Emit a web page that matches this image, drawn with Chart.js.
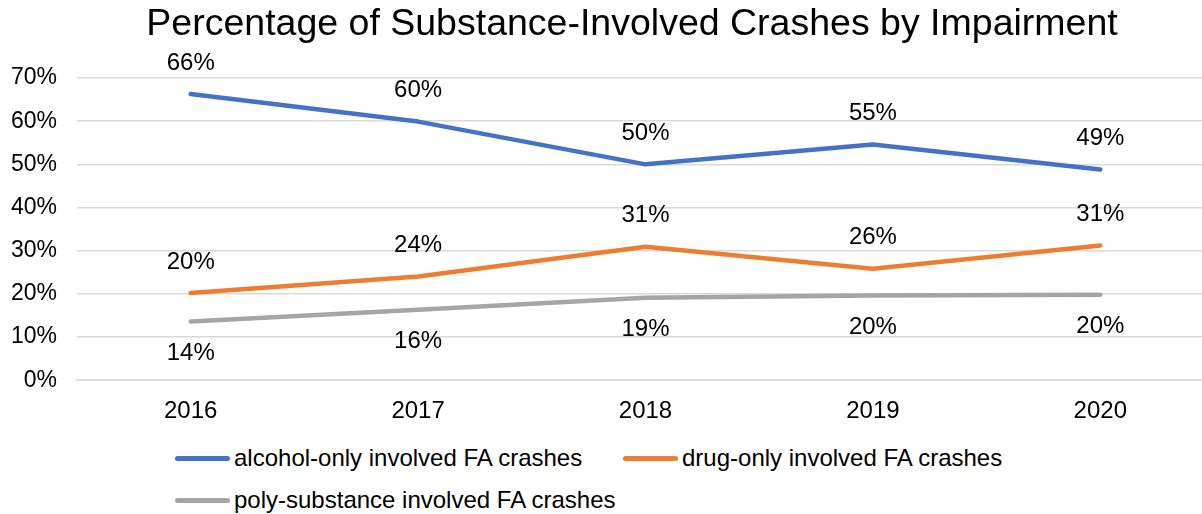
<!DOCTYPE html>
<html>
<head>
<meta charset="utf-8">
<script src="https://cdn.jsdelivr.net/npm/chart.js@4/dist/chart.umd.min.js"></script>
<style>
  html, body { margin: 0; padding: 0; background: #fff; overflow: hidden; }
  #wrap { position: relative; width: 1202px; height: 514px; overflow: hidden; background: #fff; }
  #c { position: absolute; left: 0; top: 0; }
  .lg { position: absolute; display: flex; align-items: center; font-family: "Liberation Sans", Arial, sans-serif; font-size: 24px; color: #000; white-space: nowrap; }
  .lg .sw { width: 55px; height: 5px; border-radius: 3px; margin-right: 4px; }
</style>
</head>
<body>
<div id="wrap">
  <canvas id="c" width="1214" height="443"></canvas>
</div>
<script>
const titleText = "Percentage of Substance-Involved Crashes by Impairment";
const years = ["2016", "2017", "2018", "2019", "2020"];
const seriesNames = ["alcohol-only involved FA crashes", "drug-only involved FA crashes", "poly-substance involved FA crashes"];
const alcoholOnly = [66.3, 59.9, 50.0, 54.6, 48.8];
const drugOnly = [20.2, 24.0, 30.9, 25.8, 31.2];
const polySubstance = [13.6, 16.3, 19.1, 19.6, 19.8];
const yTicks = [0, 10, 20, 30, 40, 50, 60, 70];
const colors = ["#4472C4", "#ED7D31", "#A5A5A5"];
const labelSide = ["above", "above", "below"];

const FONT = "'Liberation Sans', Arial, sans-serif";

// title drawn centred at x=632 (the original chart frame is wider than the crop)
const offsetTitle = {
  id: 'offsetTitle',
  afterDraw(chart) {
    const ctx = chart.ctx;
    ctx.save();
    ctx.font = "37.5px " + FONT;
    ctx.fillStyle = "#000";
    ctx.textAlign = "center";
    ctx.textBaseline = "middle";
    ctx.fillText(titleText, 632, 24.5);
    ctx.restore();
  }
};

const valueLabels = {
  id: 'valueLabels',
  afterDatasetsDraw(chart) {
    const ctx = chart.ctx;
    ctx.save();
    ctx.font = "24px " + FONT;
    ctx.fillStyle = "#000";
    ctx.textAlign = "center";
    ctx.textBaseline = "middle";
    chart.data.datasets.forEach((ds, i) => {
      const meta = chart.getDatasetMeta(i);
      meta.data.forEach((pt, j) => {
        const off = labelSide[i] === "above" ? -31 : 32;
        ctx.fillText(Math.round(ds.data[j]) + "%", pt.x, pt.y + off);
      });
    });
    ctx.restore();
  }
};

const datasets = [alcoholOnly, drugOnly, polySubstance].map((d, i) => ({
  label: seriesNames[i],
  data: d,
  borderColor: colors[i],
  backgroundColor: colors[i],
  borderWidth: 4.5,
  borderCapStyle: 'round',
  borderJoinStyle: 'round',
  pointRadius: 0,
  pointHoverRadius: 0,
  tension: 0,
  fill: false
}));

new Chart(document.getElementById('c'), {
  type: 'line',
  data: { labels: years, datasets },
  plugins: [valueLabels, offsetTitle],
  options: {
    responsive: false,
    animation: false,
    layout: { padding: { left: 0, right: 0, top: 78, bottom: 0 } },
    plugins: {
      legend: { display: false },
      tooltip: { enabled: false },
      title: { display: false }
    },
    scales: {
      x: {
        offset: true,
        grid: { display: false, drawTicks: false },
        border: { display: true, color: "#d9d9d9", width: 1.5 },
        ticks: { color: "#000", font: { family: FONT, size: 24 }, padding: 17 }
      },
      y: {
        min: 0,
        max: 70,
        afterBuildTicks(axis) { axis.ticks = yTicks.map(v => ({ value: v })); },
        afterFit(axis) { axis.width = 77; },
        grid: { color: "#d9d9d9", lineWidth: 1.5, drawTicks: false },
        border: { display: false },
        ticks: {
          color: "#000",
          font: { family: FONT, size: 23 },
          padding: 20,
          callback: v => v + "%"
        }
      }
    }
  }
});

// legend built from the same arrays
const wrap = document.getElementById('wrap');
const legendPos = [[175, 458], [623, 458], [175, 500]];
seriesNames.forEach((name, i) => {
  const el = document.createElement('div');
  el.className = 'lg';
  el.style.left = legendPos[i][0] + 'px';
  el.style.top = (legendPos[i][1] - 14) + 'px';
  el.style.height = '28px';
  const sw = document.createElement('span');
  sw.className = 'sw';
  sw.style.background = colors[i];
  const tx = document.createElement('span');
  tx.textContent = name;
  el.appendChild(sw);
  el.appendChild(tx);
  wrap.appendChild(el);
});
</script>
</body>
</html>
